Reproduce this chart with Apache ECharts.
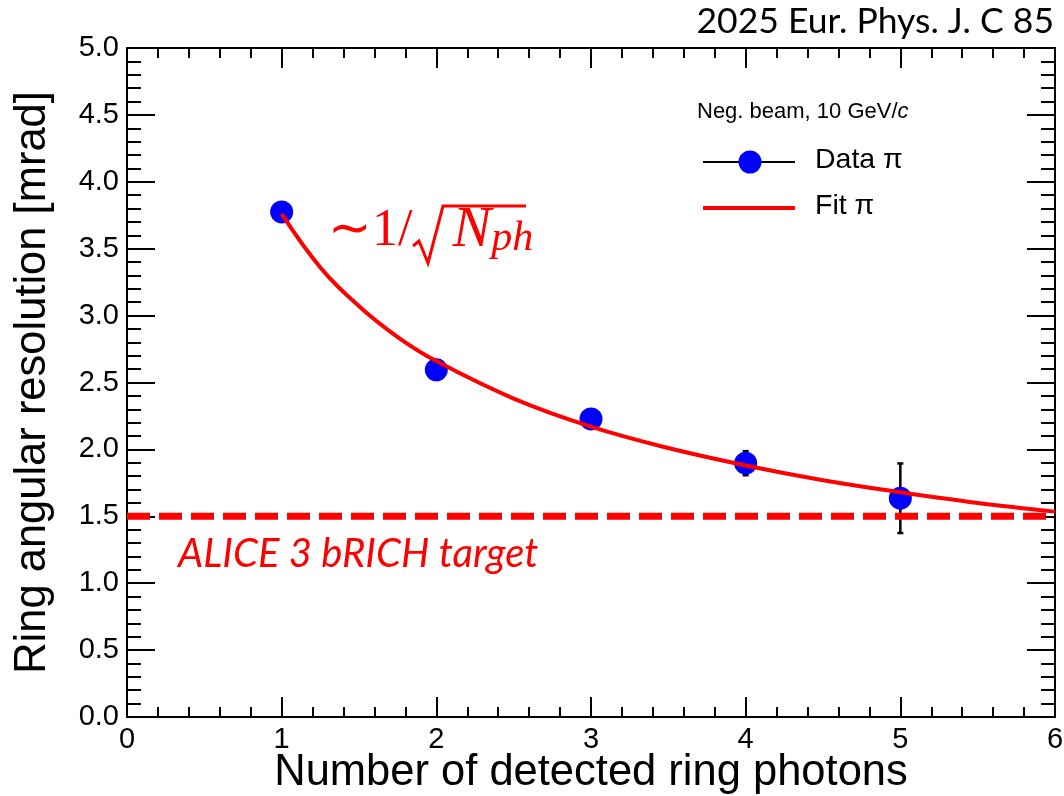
<!DOCTYPE html>
<html>
<head>
<meta charset="utf-8">
<script src="https://cdn.jsdelivr.net/npm/echarts@6/dist/echarts.min.js"></script>
<style>
  html, body { margin: 0; padding: 0; background: #fff; }
  #chart { width: 1064px; height: 796px; }
</style>
</head>
<body>
<div id="chart"></div>
<script>
// Number of detected ring photons
const photons = [1, 2, 3, 4, 5];
// Measured ring angular resolution [mrad] and its uncertainty
const resolution = [3.775, 2.595, 2.228, 1.897, 1.635];
const resolutionErr = [0.02, 0.02, 0.04, 0.09, 0.26];
// Fit curve ~1/sqrt(N_ph), sampled along x
const fitX = [1, 1.25, 1.5, 1.75, 2, 2.5, 3, 3.5, 4, 4.5, 5, 5.5, 6];
const fitY = [3.76, 3.36, 3.07, 2.84, 2.66, 2.38, 2.17, 2.01, 1.88, 1.77, 1.68, 1.60, 1.535];
// ALICE 3 bRICH target resolution [mrad]
const targetLevel = 1.5;
// Axis ticks
const xTicks = [0, 1, 2, 3, 4, 5, 6];
const yTicks = [0.0, 0.5, 1.0, 1.5, 2.0, 2.5, 3.0, 3.5, 4.0, 4.5, 5.0];

const chart = echarts.init(document.getElementById('chart'), null, { renderer: 'canvas' });

const sans = 'Liberation Sans, Arial, sans-serif';
const frameColor = '#000';

const baseAxis = {
  axisLine: { show: true, onZero: false, lineStyle: { color: frameColor, width: 2 } },
  splitLine: { show: false },
  minorSplitLine: { show: false },
  nameMoveOverlap: false,
};

const option = {
  animation: false,
  backgroundColor: '#fff',
  grid: { left: 127, right: 9, top: 48, bottom: 79, containLabel: false, outerBoundsMode: 'none' },
  xAxis: [
    Object.assign({}, baseAxis, {
      type: 'value', min: xTicks[0], max: xTicks[xTicks.length - 1], interval: 1,
      position: 'bottom',
      axisTick: { show: true, inside: true, length: 20, lineStyle: { color: frameColor, width: 2 } },
      minorTick: { show: true, splitNumber: 5, length: 10, lineStyle: { color: frameColor, width: 2 } },
      axisLabel: { show: true, color: '#000', fontFamily: sans, fontSize: 29, margin: 8,
                   formatter: v => String(v) },
      name: 'Number of detected ring photons',
      nameLocation: 'middle', nameGap: 34,
      nameTextStyle: { color: '#000', fontFamily: sans, fontSize: 43.5, verticalAlign: 'top' },
    }),
    Object.assign({}, baseAxis, {
      type: 'value', min: xTicks[0], max: xTicks[xTicks.length - 1], interval: 1,
      position: 'top',
      axisTick: { show: true, inside: true, length: 20, lineStyle: { color: frameColor, width: 2 } },
      minorTick: { show: true, splitNumber: 5, length: 10, lineStyle: { color: frameColor, width: 2 } },
      axisLabel: { show: false },
    }),
  ],
  yAxis: [
    Object.assign({}, baseAxis, {
      type: 'value', min: yTicks[0], max: yTicks[yTicks.length - 1], interval: 0.5,
      position: 'left',
      axisTick: { show: true, inside: true, length: 28, lineStyle: { color: frameColor, width: 2 } },
      minorTick: { show: true, splitNumber: 5, length: 14, lineStyle: { color: frameColor, width: 2 } },
      axisLabel: { show: true, color: '#000', fontFamily: sans, fontSize: 29, margin: 8,
                   formatter: v => v.toFixed(1) },
      name: 'Ring angular resolution [mrad]',
      nameLocation: 'middle', nameGap: 72,
      nameTextStyle: { color: '#000', fontFamily: sans, fontSize: 43.5 },
    }),
    Object.assign({}, baseAxis, {
      type: 'value', min: yTicks[0], max: yTicks[yTicks.length - 1], interval: 0.5,
      position: 'right',
      axisTick: { show: true, inside: true, length: 28, lineStyle: { color: frameColor, width: 2 } },
      minorTick: { show: true, splitNumber: 5, length: 14, lineStyle: { color: frameColor, width: 2 } },
      axisLabel: { show: false },
    }),
  ],
  series: [
    {
      // vertical error bars
      type: 'custom',
      xAxisIndex: 0, yAxisIndex: 0,
      z: 2,
      data: photons.map((x, i) => [x, resolution[i] - resolutionErr[i], resolution[i] + resolutionErr[i]]),
      renderItem: function (params, api) {
        const lo = api.coord([api.value(0), api.value(1)]);
        const hi = api.coord([api.value(0), api.value(2)]);
        const cap = 3;
        const style = { stroke: '#000', lineWidth: 2.5 };
        return {
          type: 'group',
          children: [
            { type: 'line', shape: { x1: lo[0], y1: lo[1], x2: hi[0], y2: hi[1] }, style },
            { type: 'line', shape: { x1: lo[0] - cap, y1: lo[1], x2: lo[0] + cap, y2: lo[1] }, style },
            { type: 'line', shape: { x1: hi[0] - cap, y1: hi[1], x2: hi[0] + cap, y2: hi[1] }, style },
          ],
        };
      },
    },
    {
      name: 'Data π',
      type: 'scatter',
      z: 3,
      symbol: 'circle', symbolSize: 23,
      itemStyle: { color: '#0000ff', opacity: 1 },
      data: photons.map((x, i) => [x, resolution[i]]),
    },
    {
      name: 'Fit π',
      type: 'line',
      z: 4,
      smooth: 0.4,
      showSymbol: false,
      lineStyle: { color: '#ff0000', width: 4 },
      data: fitX.map((x, i) => [x, fitY[i]]),
    },
    {
      name: 'target',
      type: 'line',
      z: 5,
      showSymbol: false,
      lineStyle: { color: '#ff0000', width: 7, type: [23, 9] },
      data: [[xTicks[0], targetLevel], [xTicks[xTicks.length - 1], targetLevel]],
    },
  ],
  graphic: [
    // publication reference
    { type: 'text', right: 10, top: 4, z: 10,
      style: { text: '2025 Eur. Phys. J. C 85', fill: '#000', font: '35.5px Lato, "Open Sans", sans-serif' } },
    // legend header
    { type: 'text', left: 697, top: 101, z: 10,
      style: { text: '{n|Neg. beam, 10 GeV/}{i|c}',
               rich: { n: { fontFamily: sans, fontSize: 22, fill: '#000' },
                       i: { fontFamily: sans, fontSize: 22, fontStyle: 'italic', fill: '#000' } } } },
    // legend: data
    { type: 'line', z: 10, shape: { x1: 703, y1: 162, x2: 795, y2: 162 }, style: { stroke: '#000', lineWidth: 2 } },
    { type: 'circle', z: 11, shape: { cx: 750, cy: 162, r: 11.5 }, style: { fill: '#0000ff' } },
    { type: 'text', left: 815, top: 146, z: 10,
      style: { text: 'Data π', fill: '#000', font: '28.5px "Liberation Sans", Arial, sans-serif' } },
    // legend: fit
    { type: 'line', z: 10, shape: { x1: 703, y1: 208, x2: 795, y2: 208 }, style: { stroke: '#ff0000', lineWidth: 4 } },
    { type: 'text', left: 815, top: 192, z: 10,
      style: { text: 'Fit π', fill: '#000', font: '28.5px "Liberation Sans", Arial, sans-serif' } },
    // scaling annotation ~1/sqrt(N_ph): text with a drawn radical sign
    { type: 'text', left: 328, top: 202, z: 10,
      style: { text: '{a|∼1/}{g|}{n|N}{s|ph}',
               rich: {
                 a: { fontFamily: '"Liberation Serif", serif', fontSize: 52, fill: '#ff0000' },
                 g: { width: 40, fontSize: 52 },
                 n: { fontFamily: '"Liberation Serif", serif', fontSize: 58, fontStyle: 'italic', fill: '#ff0000' },
                 s: { fontFamily: '"Liberation Serif", serif', fontSize: 42, fontStyle: 'italic', fill: '#ff0000',
                      padding: [16, 0, 0, 0] },
               } } },
    { type: 'polyline', z: 10,
      shape: { points: [[413, 246], [419, 241], [428, 263], [443, 206], [526, 206]] },
      style: { stroke: '#ff0000', lineWidth: 3, fill: null, lineJoin: 'miter' } },
    // target label
    { type: 'text', left: 178, top: 534, z: 10,
      style: { text: 'ALICE 3 bRICH target', fill: '#ff0000',
               font: 'italic 40px Lato, "Open Sans", sans-serif' } },
  ],
};

chart.setOption(option);
</script>
</body>
</html>
